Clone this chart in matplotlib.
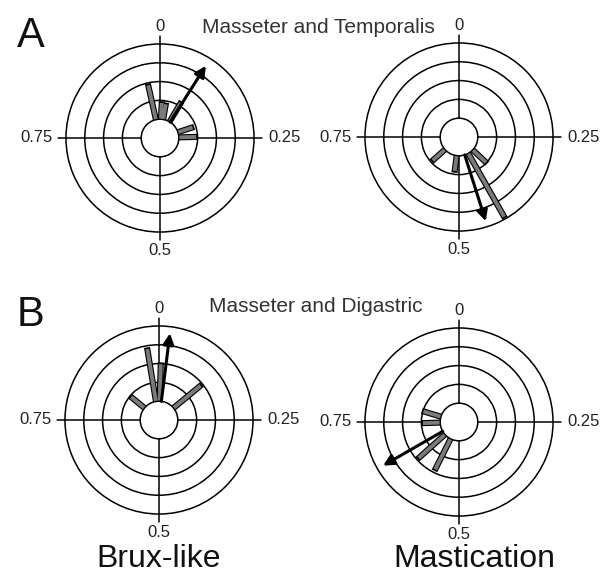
import numpy as np
import matplotlib
matplotlib.use("Agg")
import matplotlib.pyplot as plt

plt.rcParams['font.family'] = ['Liberation Sans', 'DejaVu Sans']

# phase values in cycle fractions (0..1, clockwise from top), radius 1 = inner circle
tl_phase = [0.965, 0.008, 0.027, 0.085, 0.20, 0.245]
tl_len = [2.9, 1.9, 1.85, 2.2, 1.85, 1.95]
tl_arrow = (0.09, 4.55)

tr_phase = [0.37, 0.418, 0.52, 0.634]
tr_len = [2.0, 4.9, 1.85, 1.9]
tr_arrow = (0.451, 4.7)

bl_phase = [0.86, 0.974, 0.005, 0.14]
bl_len = [1.95, 3.85, 3.0, 2.9]
bl_arrow = (0.02, 4.65)

br_phase = [0.574, 0.634, 0.745, 0.796]
br_len = [2.85, 2.9, 1.95, 2.0]
br_arrow = (0.667, 4.66)

tick_pos = [0, 0.25, 0.5, 0.75]
tick_lab = ['0', '0.25', '0.5', '0.75']
rings = [1, 2, 3, 4, 5]
RMAX = 5.45

W, H = 616, 576
fig = plt.figure(figsize=(W / 100, H / 100), dpi=100)
size = 205

# label placement around each plot: (extra r, ha, va)
lab_place = [(0.08, 'center', 'bottom'), (0.32, 'left', 'center'),
             (0.12, 'center', 'top'), (0.28, 'right', 'center')]


def make_ax(cx, cy):
    ax = fig.add_axes([(cx - size / 2) / W, (H - cy - size / 2) / H, size / W, size / H],
                      projection='polar')
    ax.set_theta_zero_location('N')
    ax.set_theta_direction(-1)
    ax.spines['polar'].set_visible(False)
    ax.set_yticks(rings)
    ax.set_yticklabels([])
    ax.set_xticks([])
    ax.yaxis.grid(True, color='black', lw=1.1)
    ax.xaxis.grid(False)
    ax.set_ylim(0, RMAX)
    # cross lines from the inner circle out to the edge
    for t in tick_pos:
        th = t * 2 * np.pi
        ax.plot([th, th], [1, RMAX], color='black', lw=1.1, zorder=2.6)
    for t, lab, (dr, ha, va) in zip(tick_pos, tick_lab, lab_place):
        ax.text(t * 2 * np.pi, RMAX + dr, lab, ha=ha, va=va, fontsize=12,
                color='#222222', clip_on=False)
    ax.set_ylim(0, RMAX)
    return ax


def draw(ax, phase, lens, arrow):
    for p, r in zip(phase, lens):
        th = p * 2 * np.pi
        ax.plot([th, th], [1, r + 0.06], color='black', lw=4.4, solid_capstyle='butt', zorder=3)
        ax.plot([th, th], [1.03, r - 0.03], color='#7a7a7a', lw=2.8, solid_capstyle='butt', zorder=4)
    th = arrow[0] * 2 * np.pi
    ax.annotate('', xy=(th, arrow[1]), xytext=(th, 1.0),
                arrowprops=dict(arrowstyle='-|>', color='black', lw=2.2,
                                mutation_scale=16, shrinkA=0, shrinkB=0),
                zorder=5)
    ax.set_ylim(0, RMAX)


axes = [(make_ax(160, 138), tl_phase, tl_len, tl_arrow),
        (make_ax(459, 137), tr_phase, tr_len, tr_arrow),
        (make_ax(159, 420), bl_phase, bl_len, bl_arrow),
        (make_ax(459, 422), br_phase, br_len, br_arrow)]
for ax, p, l, a in axes:
    draw(ax, p, l, a)

fig.text(31 / W, 1 - 47 / H, 'A', fontsize=30, ha='center', va='baseline', color='#111111')
fig.text(31 / W, 1 - 326 / H, 'B', fontsize=30, ha='center', va='baseline', color='#111111')
fig.text(318 / W, 1 - 33 / H, 'Masseter and Temporalis', fontsize=15, ha='center',
         va='baseline', color='#333333')
fig.text(316 / W, 1 - 312 / H, 'Masseter and Digastric', fontsize=15, ha='center',
         va='baseline', color='#333333')
fig.text(159 / W, 1 - 567 / H, 'Brux-like', fontsize=23, ha='center', va='baseline',
         color='#111111')
fig.text(474 / W, 1 - 567 / H, 'Mastication', fontsize=23, ha='center', va='baseline',
         color='#111111')

fig.savefig('out.png', dpi=100)
